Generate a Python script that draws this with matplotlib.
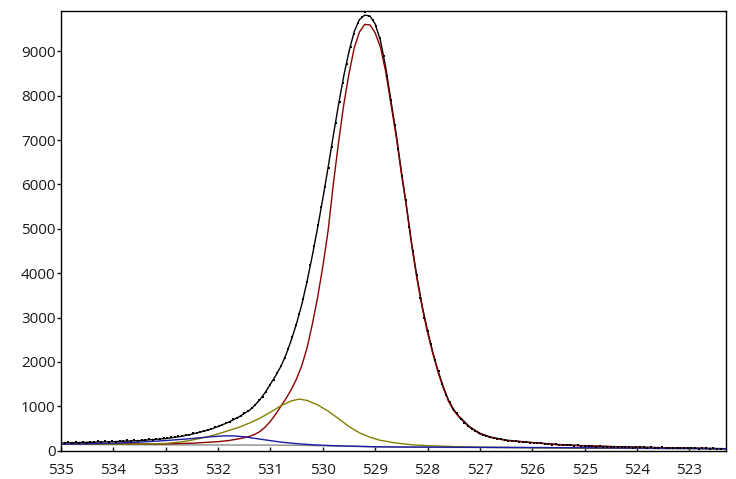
import numpy as np
import matplotlib
matplotlib.use("Agg")
import matplotlib.pyplot as plt

plt.rcParams['font.family'] = ['Open Sans', 'DejaVu Sans']

# measured points (binding energy grid, 0.07 eV step)
dot_start, dot_step, dot_n = 535.0, 0.07, 181
dot_y = [175, 160, 185, 170, 190, 175, 195, 180, 200, 185,
         215, 190, 205, 195, 215, 200, 225, 205, 230, 215,
         235, 225, 240, 235, 255, 245, 270, 260, 280, 275,
         295, 300, 320, 325, 345, 360, 385, 395, 425, 440,
         470, 490, 525, 545, 585, 615, 650, 700, 740, 790,
         840, 895, 960, 1020, 1130, 1210, 1330, 1480, 1600, 1740,
         1900, 2080, 2300, 2550, 2820, 3080, 3420, 3800, 4180, 4620,
         5080, 5500, 5950, 6380, 6850, 7380, 7850, 8300, 8720, 9100,
         9400, 9650, 9780, 9900, 9800, 9700, 9580, 9300, 8900, 8450,
         7900, 7350, 6800, 6200, 5650, 5050, 4500, 3950, 3450, 3000,
         2700, 2400, 2050, 1800, 1500, 1250, 1100, 940, 850, 720,
         620, 560, 480, 440, 400, 360, 335, 310, 290, 270,
         255, 240, 225, 220, 205, 200, 190, 185, 170, 180,
         160, 165, 150, 155, 135, 140, 125, 130, 115, 120,
         105, 115, 100, 110, 95, 100, 85, 95, 80, 90,
         85, 75, 90, 70, 80, 75, 65, 80, 70, 75,
         60, 70, 65, 55, 70, 60, 65, 50, 60, 55,
         65, 50, 55, 60, 45, 55, 50, 45, 55, 40, 45]

# fit envelope
env_x = [535.0, 534.5, 534.0, 533.5, 533.0, 532.7, 532.5, 532.2, 532.0, 531.8,
         531.6, 531.4, 531.3, 531.2, 531.1, 531.0, 530.9, 530.8, 530.7, 530.6,
         530.5, 530.4, 530.3, 530.2, 530.1, 530.0, 529.9, 529.8, 529.7, 529.6,
         529.5, 529.4, 529.3, 529.2, 529.1, 529.0, 528.9, 528.8, 528.7, 528.6,
         528.5, 528.4, 528.3, 528.2, 528.1, 528.0, 527.9, 527.8, 527.7, 527.6,
         527.5, 527.4, 527.2, 527.0, 526.8, 526.5, 526.0, 525.5, 525.0, 524.5,
         524.0, 523.5, 523.0, 522.3]
env_y = [170, 185, 200, 225, 270, 320, 370, 460, 540, 640,
         760, 910, 1020, 1150, 1310, 1500, 1690, 1900, 2170, 2500,
         2870, 3300, 3820, 4400, 5020, 5680, 6380, 7100, 7800, 8450,
         9000, 9450, 9720, 9820, 9800, 9620, 9250, 8650, 7900, 7150,
         6300, 5500, 4650, 3900, 3250, 2700, 2220, 1800, 1440, 1140,
         925, 775, 540, 390, 305, 235, 180, 135, 108, 90,
         77, 64, 54, 42]

# main component (~529.2 eV)
red_x = [535.0, 534.5, 534.0, 533.5, 533.0, 532.5, 532.0, 531.8, 531.6, 531.5,
         531.4, 531.3, 531.2, 531.1, 531.0, 530.9, 530.8, 530.7, 530.6, 530.5,
         530.4, 530.3, 530.2, 530.1, 530.0, 529.9, 529.8, 529.7, 529.6, 529.5,
         529.4, 529.3, 529.2, 529.1, 529.0, 528.9, 528.8, 528.7, 528.6, 528.5,
         528.4, 528.3, 528.2, 528.1, 528.0, 527.9, 527.8, 527.7, 527.6, 527.5,
         527.4, 527.2, 527.0, 526.8, 526.5, 526.0, 525.5, 525.0, 524.5, 524.0,
         523.5, 523.0, 522.3]
red_y = [145, 148, 150, 150, 150, 165, 200, 225, 265, 290,
         320, 365, 430, 530, 660, 820, 1000, 1180, 1380, 1620,
         1920, 2320, 2850, 3450, 4150, 4950, 6000, 6950, 7800, 8500,
         9080, 9440, 9610, 9600, 9420, 9100, 8550, 7820, 7090, 6250,
         5460, 4600, 3860, 3210, 2660, 2190, 1770, 1410, 1110, 900,
         755, 525, 375, 295, 228, 178, 130, 105, 88, 75,
         62, 52, 40]

# second component (~530.45 eV)
ol_x = [535.0, 534.0, 533.5, 533.0, 532.7, 532.5, 532.2, 532.0, 531.8, 531.6,
        531.4, 531.2, 531.0, 530.8, 530.6, 530.45, 530.3, 530.1, 529.9, 529.7,
        529.5, 529.3, 529.1, 528.9, 528.6, 528.3, 528.0, 527.5, 527.0, 526.0,
        525.0, 524.0, 522.3]
ol_y = [145, 143, 145, 160, 195, 235, 310, 375, 450, 525,
        620, 730, 865, 1010, 1120, 1160, 1130, 1030, 890, 720,
        540, 400, 300, 230, 170, 130, 110, 90, 75, 62,
        55, 48, 40]

# third component (~531.8 eV)
bl_x = [535.0, 534.5, 534.0, 533.5, 533.0, 532.5, 532.2, 531.9, 531.7, 531.5,
        531.3, 531.1, 530.8, 530.5, 530.2, 529.8, 529.5, 529.0, 528.5, 528.0,
        527.0, 526.0, 525.0, 524.0, 523.0, 522.3]
bl_y = [145, 150, 165, 190, 225, 270, 305, 330, 330, 310,
        275, 240, 190, 155, 130, 110, 100, 85, 80, 78,
        72, 68, 62, 55, 48, 40]

# background
bg_x = [535.0, 534.0, 533.0, 532.0, 531.0, 530.5, 530.0, 529.5, 529.0, 528.5,
        528.0, 527.0, 526.0, 525.0, 524.0, 522.3]
bg_y = [140, 132, 128, 126, 122, 118, 108, 95, 84, 76,
        72, 68, 64, 58, 50, 38]

dot_x = dot_start - dot_step * np.arange(dot_n)

fig = plt.figure(figsize=(7.36, 4.79), dpi=100)
ax = fig.add_axes([0.0829, 0.0585, 0.9035, 0.9192])

ax.plot(bg_x, bg_y, color='#8c8c8c', lw=1.0)
ax.plot(env_x, env_y, color='black', lw=1.0)
ax.plot(red_x, red_y, color='#8b0000', lw=1.0)
ax.plot(ol_x, ol_y, color='#808000', lw=1.0)
ax.plot(bl_x, bl_y, color='#1a1aa6', lw=1.0)
ax.plot(dot_x, dot_y, ls='none', marker='s', ms=2.0, mew=0, color='black')

ax.set_xlim(535, 522.3)
ax.set_ylim(-10, 9920)
ax.set_xticks(np.arange(535, 522, -1))
ax.set_yticks(np.arange(0, 10000, 1000))

ax.tick_params(axis='x', direction='in', length=3, width=1, pad=8.5, labelsize=11, colors='#1a1a1a')
ax.tick_params(axis='y', direction='out', length=3, width=1, pad=1, labelsize=11, colors='#1a1a1a')
for s in ax.spines.values():
    s.set_linewidth(1.0)

fig.savefig('out.png', dpi=100)
